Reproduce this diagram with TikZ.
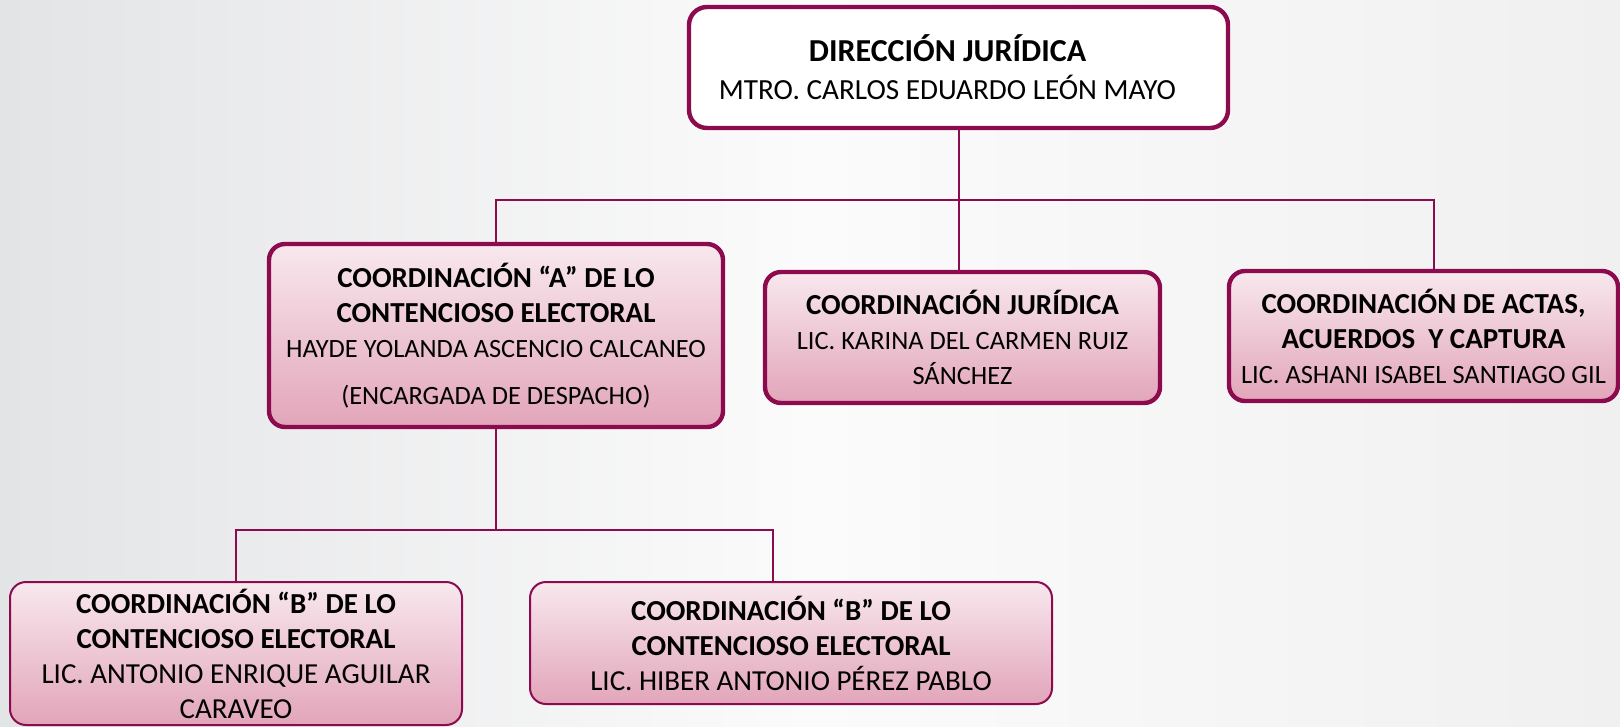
\documentclass[tikz,border=0pt]{standalone}
\usepackage{fontspec}
\setmainfont{Carlito}
\usepackage{tikz}

\definecolor{vino}{HTML}{8C0B4F}
\definecolor{rosaT}{HTML}{F8E8EE}
\definecolor{rosaB}{HTML}{E2A5B9}
\definecolor{fondoL}{HTML}{E3E4E6}
\definecolor{fondoM}{HTML}{FBFBFB}
\definecolor{fondoR}{HTML}{F0F0F0}

\newcommand{\cargo}[1]{{\fontsize{14.5}{17.5}\selectfont\bfseries #1}}

\begin{document}
\begin{tikzpicture}[x=0.5pt, y=-0.5pt,
    every node/.style={align=center, font=\fontsize{13.2}{17.5}\selectfont, inner sep=0pt},
    jefe/.style={draw=vino, line width=2.2pt, rounded corners=9pt, fill=white, font=\fontsize{14.6}{19}\selectfont},
    coord/.style={draw=vino, line width=2.2pt, rounded corners=8pt, top color=rosaT, bottom color=rosaB},
    subcoord/.style={draw=vino, line width=1pt, rounded corners=8pt, top color=rosaT, bottom color=rosaB, font=\fontsize{14.5}{17.5}\selectfont}, 
    link/.style={draw=vino, line width=1pt}]
  \useasboundingbox (0,0) rectangle (1620,727);
  \shade[left color=fondoL, right color=fondoR, middle color=fondoM] (0,0) rectangle (1620,727);

  \node [jefe, minimum width=269.5pt, minimum height=60.5pt] (dir) at (958.5, 67.5)
    {{\fontsize{16}{19}\selectfont\bfseries DIRECCIÓN JURÍDICA}\hspace*{11pt}\\MTRO. CARLOS EDUARDO LEÓN MAYO\hspace*{11pt}};
  \node [coord, minimum width=227pt, minimum height=91.5pt] (coa) at (496, 335.5)
    {\cargo{COORDINACIÓN “A” DE LO}\\\cargo{CONTENCIOSO ELECTORAL}\\HAYDE YOLANDA ASCENCIO CALCANEO\\[6pt](ENCARGADA DE DESPACHO)};
  \node [coord, minimum width=197.5pt, minimum height=65.5pt] (coj) at (962.5, 337.5)
    {\cargo{COORDINACIÓN JURÍDICA}\\LIC. KARINA DEL CARMEN RUIZ\\SÁNCHEZ};
  \node [coord, minimum width=194.5pt, minimum height=65pt] (coact) at (1423.5, 336)
    {\cargo{COORDINACIÓN DE ACTAS,}\\\cargo{ACUERDOS\ \ Y CAPTURA}\\LIC. ASHANI ISABEL SANTIAGO GIL};
  \node [subcoord, minimum width=226pt, minimum height=71.5pt] (cob1) at (236, 653.5)
    {\cargo{COORDINACIÓN “B” DE LO}\\\cargo{CONTENCIOSO ELECTORAL}\\LIC. ANTONIO ENRIQUE AGUILAR\\CARAVEO};
  \node [subcoord, minimum width=261pt, minimum height=61pt] (cob2) at (791, 643)
    {\cargo{COORDINACIÓN “B” DE LO}\\\cargo{CONTENCIOSO ELECTORAL}\\LIC. HIBER ANTONIO PÉREZ PABLO};

  \coordinate (bus1) at (958, 200);
  \coordinate (bus1R) at (1434, 200);
  \coordinate (bus2) at (496, 530);
  \coordinate (bus2R) at (773, 530);

  \draw [link] (dir.south) -- (dir.south |- coj.north);
  \draw [link] (bus1) -| (coa.north);
  \draw [link] (bus1) -- (bus1R) -- (bus1R |- coact.north);
  \draw [link] (coa.south) -- (bus2);
  \draw [link] (bus2) -| (cob1.north);
  \draw [link] (bus2) -- (bus2R) -- (bus2R |- cob2.north);
\end{tikzpicture}
\end{document}
